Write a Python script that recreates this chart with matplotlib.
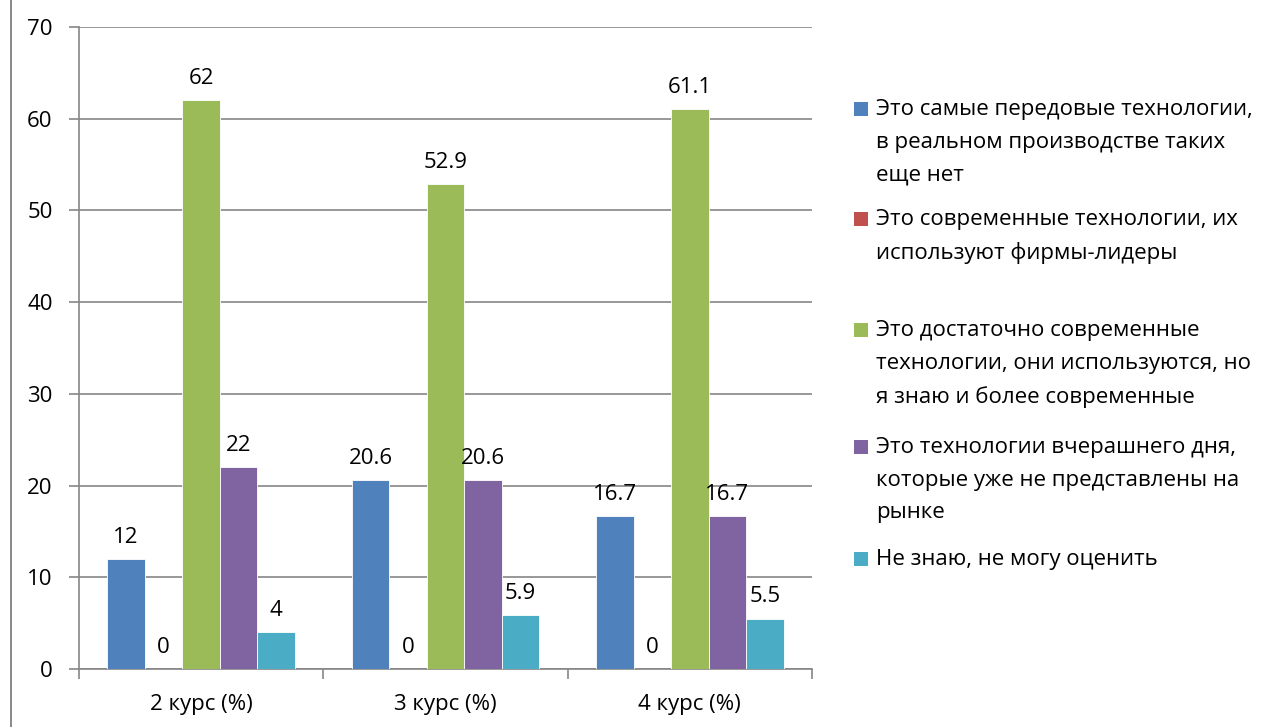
import matplotlib
matplotlib.use("Agg")
import matplotlib.pyplot as plt
import numpy as np
from matplotlib.lines import Line2D
from matplotlib.patches import Rectangle

plt.rcParams['font.family'] = ['Open Sans', 'DejaVu Sans']

categories = ["2 курс (%)", "3 курс (%)", "4 курс (%)"]
series_names = [
    "Это самые передовые технологии,\nв реальном производстве таких\nеще нет",
    "Это современные технологии, их\nиспользуют фирмы-лидеры",
    "Это достаточно современные\nтехнологии, они используются, но\nя знаю и более современные",
    "Это технологии вчерашнего дня,\nкоторые уже не представлены на\nрынке",
    "Не знаю, не могу оценить",
]
s1 = [12, 20.6, 16.7]
s2 = [0, 0, 0]
s3 = [62, 52.9, 61.1]
s4 = [22, 20.6, 16.7]
s5 = [4, 5.9, 5.5]
series = [s1, s2, s3, s4, s5]
colors = ["#4F81BD", "#C0504D", "#9BBB59", "#8064A2", "#4BACC6"]
yticks = [0, 10, 20, 30, 40, 50, 60, 70]

W, H = 1282, 727
fig = plt.figure(figsize=(W / 100, H / 100), dpi=100)
ax = fig.add_axes([79 / W, 1 - 669 / H, (812 - 79) / W, (669 - 27) / H])

grid_c = "#868686"
fs = 16

x = np.arange(len(categories))
bw = 0.1535
n = len(series)
for i, (vals, c) in enumerate(zip(series, colors)):
    pos = x + (i - (n - 1) / 2) * bw
    ax.bar(pos, vals, width=bw, color=c, edgecolor="white", linewidth=0.6, zorder=3)
    for p, v in zip(pos, vals):
        ax.annotate(f"{v:g}", (p, v), xytext=(0, 8), textcoords="offset points",
                    ha="center", va="bottom", fontsize=fs, color="black", zorder=4)

ax.set_xlim(-0.5, 2.5)
ax.set_ylim(0, 70)
ax.set_yticks(yticks)
ax.set_yticklabels([str(t) for t in yticks], fontsize=fs)
ax.yaxis.grid(True, color=grid_c, linewidth=1.2, zorder=0)
ax.set_axisbelow(True)

ax.set_xticks(x)
ax.set_xticklabels(categories, fontsize=fs)
ax.tick_params(axis="x", length=0, pad=18)
ax.set_xticks([-0.5, 0.5, 1.5, 2.5], minor=True)
ax.tick_params(axis="x", which="minor", length=7, color=grid_c, width=1.2)
ax.tick_params(axis="y", length=7, color=grid_c, width=1.2, pad=12)

for s in ["top", "right"]:
    ax.spines[s].set_visible(False)
for s in ["left", "bottom"]:
    ax.spines[s].set_color(grid_c)
    ax.spines[s].set_linewidth(1.2)

fig.add_artist(Line2D([10.5 / W, 10.5 / W], [0, 1], color="#7F7F7F", linewidth=1.3,
                      transform=fig.transFigure))

tops = [109, 219, 330, 447, 559]
for name, c, ty in zip(series_names, colors, tops):
    fig.add_artist(Rectangle((854 / W, 1 - (ty + 7) / H), 14 / W, 14 / H,
                             facecolor=c, edgecolor="none", transform=fig.transFigure))
    fig.text(876 / W, 1 - (ty - 10) / H, name, fontsize=fs, ha="left", va="top",
             linespacing=1.72)

fig.savefig("out.png", dpi=100, facecolor="white")
